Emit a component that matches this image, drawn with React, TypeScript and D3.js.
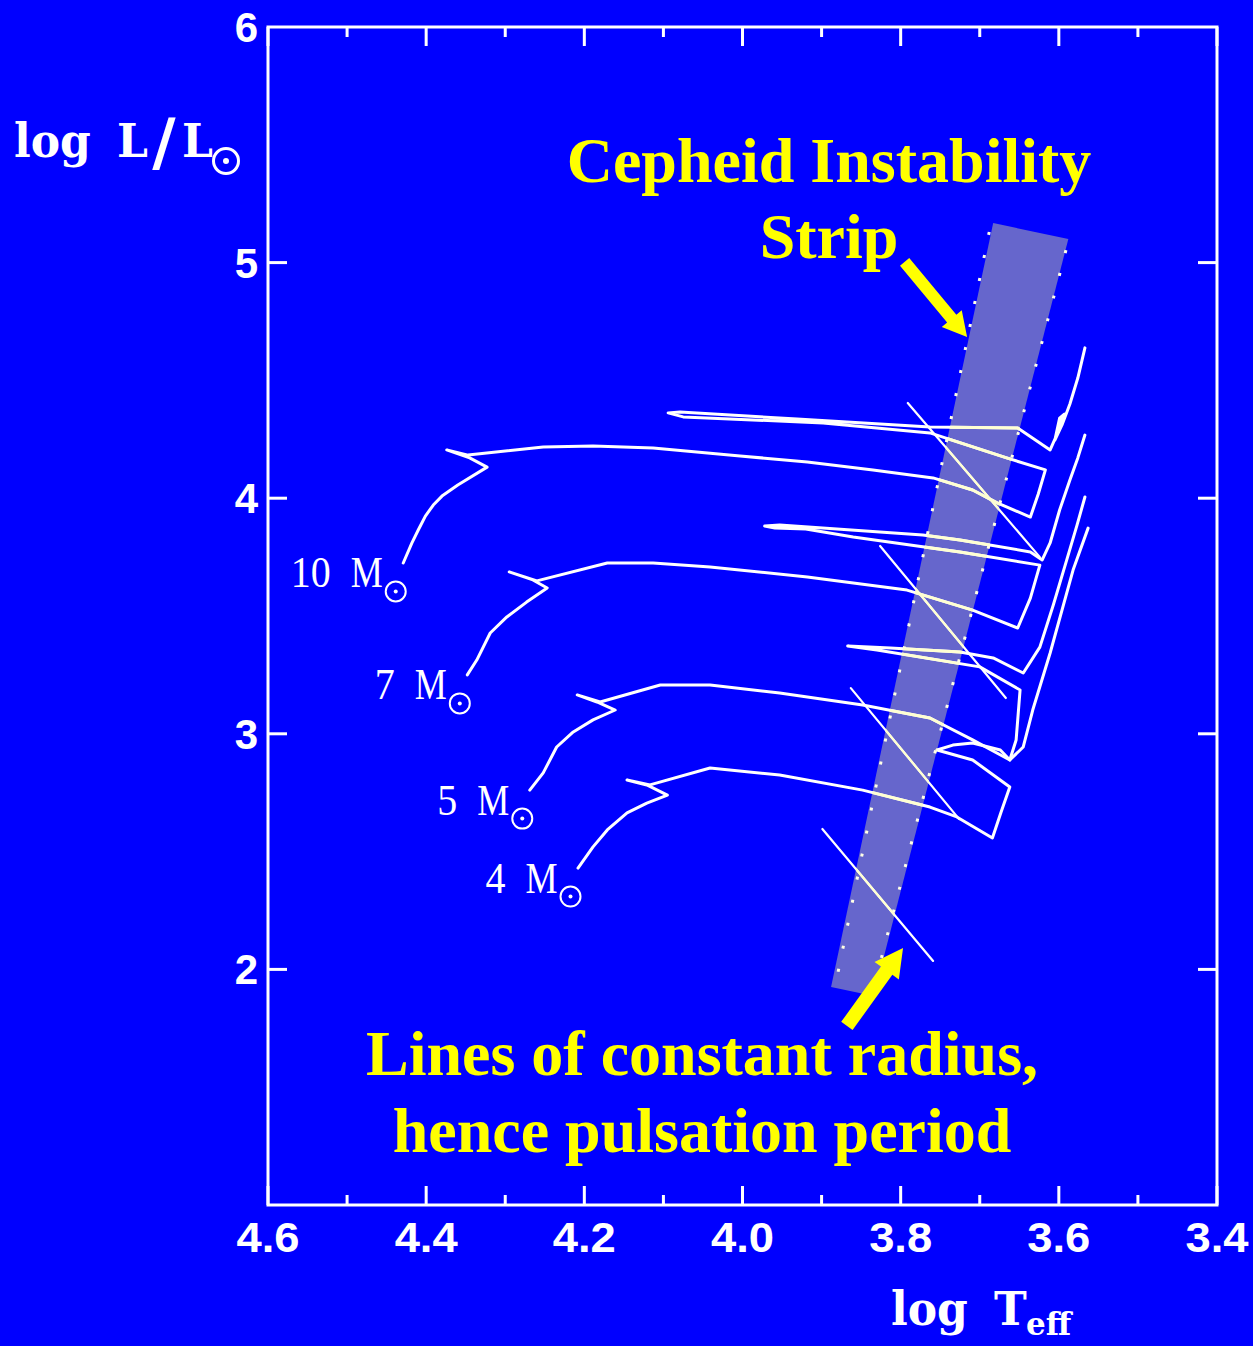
import React from 'react';
import * as d3 from 'd3';

const W = 1253;
const H = 1346;

// axis ticks
const xMajorTicks = [4.6, 4.4, 4.2, 4.0, 3.8, 3.6, 3.4];
const xTickLabels = ['4.6', '4.4', '4.2', '4.0', '3.8', '3.6', '3.4'];
const xMinorTicks = [4.5, 4.3, 4.1, 3.9, 3.7, 3.5];
const yMajorTicks = [2, 3, 4, 5];
const yTickLabelValues = [2, 3, 4, 5, 6];
const yTickLabels = ['2', '3', '4', '5', '6'];

// evolutionary tracks: [log Teff, log L/Lsun]
const track10: [number, number][] = [
  [4.429, 3.725], [4.418, 3.81], [4.41, 3.865], [4.401, 3.924], [4.391, 3.971], [4.38, 4.009],
  [4.36, 4.056], [4.323, 4.132], [4.345, 4.171], [4.374, 4.205], [4.347, 4.183], [4.252, 4.217],
  [4.189, 4.222], [4.113, 4.213], [4.003, 4.179], [3.918, 4.154], [3.835, 4.12], [3.759, 4.086],
  [3.709, 4.035], [3.678, 3.98], [3.636, 3.92], [3.626, 4.018], [3.617, 4.12],
  [3.666, 4.171], [3.763, 4.277], [3.898, 4.319], [4.075, 4.345], [4.094, 4.362],
  [4.079, 4.366], [3.931, 4.336], [3.763, 4.302], [3.652, 4.298], [3.611, 4.205],
  [3.601, 4.281], [3.593, 4.357], [3.599, 4.34], [3.605, 4.247], [3.596, 4.311],
  [3.586, 4.4], [3.576, 4.51], [3.567, 4.638],
];
const track7: [number, number][] = [
  [4.348, 3.25], [4.336, 3.313], [4.319, 3.428], [4.298, 3.496], [4.273, 3.559], [4.247, 3.619],
  [4.265, 3.653], [4.295, 3.687], [4.26, 3.649], [4.171, 3.725], [4.113, 3.725], [4.041, 3.708],
  [3.918, 3.666], [3.792, 3.61], [3.709, 3.525], [3.652, 3.449], [3.636, 3.576], [3.624, 3.716],
  [3.725, 3.772], [3.86, 3.835], [3.92, 3.869], [3.959, 3.873], [3.972, 3.882],
  [3.953, 3.886], [3.772, 3.844], [3.725, 3.823], [3.636, 3.772], [3.621, 3.738],
  [3.611, 3.81], [3.599, 3.95], [3.586, 4.077], [3.576, 4.171], [3.567, 4.268],
];
const track5: [number, number][] = [
  [4.269, 2.761], [4.252, 2.834], [4.235, 2.944], [4.214, 3.008], [4.189, 3.059], [4.161, 3.101],
  [4.184, 3.135], [4.209, 3.165], [4.18, 3.135], [4.104, 3.207], [4.041, 3.207], [3.953, 3.173],
  [3.848, 3.122], [3.763, 3.067], [3.709, 2.974], [3.662, 2.889], [3.654, 2.974], [3.649, 3.186],
  [3.7, 3.284], [3.83, 3.356], [3.867, 3.373],
  [3.813, 3.364], [3.725, 3.347], [3.683, 3.322], [3.645, 3.258],
  [3.624, 3.368], [3.607, 3.547], [3.59, 3.738], [3.577, 3.886], [3.567, 4.005],
];
const track4: [number, number][] = [
  [4.208, 2.43], [4.189, 2.52], [4.171, 2.592], [4.146, 2.664], [4.121, 2.706], [4.095, 2.74],
  [4.121, 2.783], [4.146, 2.804], [4.117, 2.783], [4.041, 2.855], [3.953, 2.825], [3.848, 2.761],
  [3.763, 2.689], [3.729, 2.647], [3.684, 2.558], [3.673, 2.668], [3.662, 2.774],
  [3.709, 2.889], [3.754, 2.931],
  [3.734, 2.952], [3.709, 2.961], [3.674, 2.931], [3.662, 2.889],
  [3.645, 2.944], [3.633, 3.101], [3.611, 3.343], [3.582, 3.695], [3.563, 3.873],
];
const massLabels = ['10', '7', '5', '4'];
const tracks = [track10, track7, track5, track4];

// lines of constant radius
const radiusLine1: [number, number][] = [[3.791, 4.404], [3.624, 3.75]];
const radiusLine2: [number, number][] = [[3.826, 3.797], [3.667, 3.152]];
const radiusLine3: [number, number][] = [[3.863, 3.194], [3.726, 2.638]];
const radiusLine4: [number, number][] = [[3.899, 2.596], [3.759, 2.036]];
const radiusLines = [radiusLine1, radiusLine2, radiusLine3, radiusLine4];

// instability strip
const stripCorners: [number, number][] = [[3.683, 5.168], [3.588, 5.1], [3.834, 1.887], [3.888, 1.925]];
const stripEdgeBlue: [number, number][] = [[3.688, 5.13], [3.882, 1.942]];
const stripEdgeRed: [number, number][] = [[3.591, 5.053], [3.827, 2.014]];

// annotation arrows [tail, tip]
const arrowToStrip: [number, number][] = [[3.795, 5.003], [3.716, 4.684]];
const arrowToRadius: [number, number][] = [[3.868, 1.76], [3.797, 2.091]];

const x = d3.scaleLinear().domain([4.6, 3.4]).range([268, 1217]);
const y = d3.scaleLinear().domain([1, 6]).range([1205, 27]);

const line = d3
  .line<[number, number]>()
  .x((d) => x(d[0]))
  .y((d) => y(d[1]));

function arrowPath(a: [number, number][], sw: number, hw: number, hl: number) {
  const x0 = x(a[0][0]), y0 = y(a[0][1]), x1 = x(a[1][0]), y1 = y(a[1][1]);
  const dx = x1 - x0, dy = y1 - y0;
  const len = Math.hypot(dx, dy);
  const ux = dx / len, uy = dy / len;
  const px = -uy, py = ux;
  const bx = x1 - ux * hl, by = y1 - uy * hl;
  const pts: [number, number][] = [
    [x0 + (px * sw) / 2, y0 + (py * sw) / 2],
    [bx + (px * sw) / 2, by + (py * sw) / 2],
    [bx + (px * hw) / 2, by + (py * hw) / 2],
    [x1, y1],
    [bx - (px * hw) / 2, by - (py * hw) / 2],
    [bx - (px * sw) / 2, by - (py * sw) / 2],
    [x0 - (px * sw) / 2, y0 - (py * sw) / 2],
  ];
  return 'M' + pts.map((p) => p.join(',')).join('L') + 'Z';
}

const SunSymbol = ({ cx, cy, r, sw }: { cx: number; cy: number; r: number; sw: number }) => (
  <g>
    <circle cx={cx} cy={cy} r={r} fill="none" stroke="#fff" strokeWidth={sw} />
    <circle cx={cx} cy={cy} r={sw} fill="#fff" />
  </g>
);

export default function App() {
  const [xl, xr] = x.range();
  const [yb, yt] = y.range();
  const stripPath = line(stripCorners) + 'Z';
  const blue = '#0000FF';
  const yellow = '#FFFF00';
  const slab = "'DejaVu Serif', 'Liberation Serif', serif";

  const drawLines = (stroke: string) => (
    <g fill="none" stroke={stroke} strokeLinejoin="round" strokeLinecap="round">
      {tracks.map((t, i) => (
        <path key={'t' + i} d={line(t) || ''} strokeWidth={3} />
      ))}
      {radiusLines.map((r, i) => (
        <path key={'r' + i} d={line(r) || ''} strokeWidth={2.2} />
      ))}
    </g>
  );

  return (
    <svg
      width={W}
      height={H}
      viewBox={`0 0 ${W} ${H}`}
      style={{ position: 'absolute', left: 0, top: 0, display: 'block' }}
    >
      <defs>
        <clipPath id="stripClip">
          <path d={stripPath} />
        </clipPath>
      </defs>
      <rect x={0} y={0} width={W} height={H} fill={blue} />

      {/* instability strip */}
      <path d={stripPath} fill="#6666CC" />
      <g fill="none" stroke="#FFFFE6" strokeWidth={3} strokeDasharray="3 20.5">
        <path d={line(stripEdgeBlue) || ''} />
        <path d={line(stripEdgeRed) || ''} />
      </g>

      {/* tracks and radius lines */}
      {drawLines('#FFFFFF')}
      <g clipPath="url(#stripClip)">{drawLines('#FFFFD2')}</g>

      {/* frame */}
      <rect x={xl} y={yt} width={xr - xl} height={yb - yt} fill="none" stroke="#fff" strokeWidth={3} />
      <g stroke="#fff" strokeWidth={3}>
        {yMajorTicks.map((v) => (
          <g key={'yt' + v}>
            <line x1={xl} x2={xl + 19} y1={y(v)} y2={y(v)} />
            <line x1={xr - 19} x2={xr} y1={y(v)} y2={y(v)} />
          </g>
        ))}
        {xMajorTicks.map((v) => (
          <g key={'xt' + v}>
            <line x1={x(v)} x2={x(v)} y1={yb} y2={yb - 19} />
            <line x1={x(v)} x2={x(v)} y1={yt} y2={yt + 19} />
          </g>
        ))}
        {xMinorTicks.map((v) => (
          <g key={'xm' + v}>
            <line x1={x(v)} x2={x(v)} y1={yb} y2={yb - 10} />
            <line x1={x(v)} x2={x(v)} y1={yt} y2={yt + 10} />
          </g>
        ))}
      </g>

      {/* tick labels */}
      <g fill="#fff" fontFamily="'Liberation Sans', Arial, sans-serif" fontWeight="bold" fontSize={42}>
        {yTickLabelValues.map((v, i) => (
          <text key={'yl' + v} x={xl - 10} y={y(v) + 15} textAnchor="end">
            {yTickLabels[i]}
          </text>
        ))}
        {xMajorTicks.map((v, i) => (
          <text key={'xl' + v} x={x(v)} y={yb + 47} textAnchor="middle" transform={`translate(${x(v)},0) scale(1.08,1) translate(${-x(v)},0)`}>
            {xTickLabels[i]}
          </text>
        ))}
      </g>

      {/* axis titles */}
      <g fill="#fff" fontFamily={slab} fontWeight="bold">
        <text transform="translate(14,157) scale(1,1.05)" fontSize={44}>log</text>
        <text transform="translate(117,157) scale(1,1.05)" fontSize={44}>L</text>
        <text transform="translate(164,164)" fontSize={64} textAnchor="middle">/</text>
        <text transform="translate(182,157) scale(1,1.05)" fontSize={44}>L</text>
        <text transform="translate(891,1325) scale(1,1.05)" fontSize={44}>log</text>
        <text transform="translate(994,1325) scale(1,1.05)" fontSize={44}>T</text>
        <text transform="translate(1026,1335)" fontSize={31}>eff</text>
      </g>
      <SunSymbol cx={226} cy={161} r={12.5} sw={3} />

      {/* mass labels */}
      {tracks.map((t, i) => {
        const sx = x(t[0][0]) - 7.5;
        const sy = y(t[0][1]) + 28.5;
        return (
          <g key={'ml' + i} fill="#fff" fontFamily="'Liberation Serif', 'Times New Roman', serif">
            <text transform={`translate(${sx - 65},${sy - 4}) scale(1,1.12)`} textAnchor="end" fontSize={40}>
              {massLabels[i]}
            </text>
            <text transform={`translate(${sx - 13},${sy - 4}) scale(1,1.22)`} textAnchor="end" fontSize={36}>
              M
            </text>
            <SunSymbol cx={sx} cy={sy} r={10} sw={2} />
          </g>
        );
      })}

      {/* annotations */}
      <g fill={yellow} fontFamily="'Liberation Serif', 'Times New Roman', serif" fontWeight="bold" fontSize={64}>
        <text x={829} y={182} textAnchor="middle">Cepheid Instability</text>
        <text x={829} y={258} textAnchor="middle">Strip</text>
        <text x={702} y={1075} textAnchor="middle">Lines of constant radius,</text>
        <text x={702} y={1152} textAnchor="middle">hence pulsation period</text>
      </g>
      <path d={arrowPath(arrowToStrip, 12, 26, 24)} fill={yellow} />
      <path d={arrowPath(arrowToRadius, 14, 30, 28)} fill={yellow} />
    </svg>
  );
}
